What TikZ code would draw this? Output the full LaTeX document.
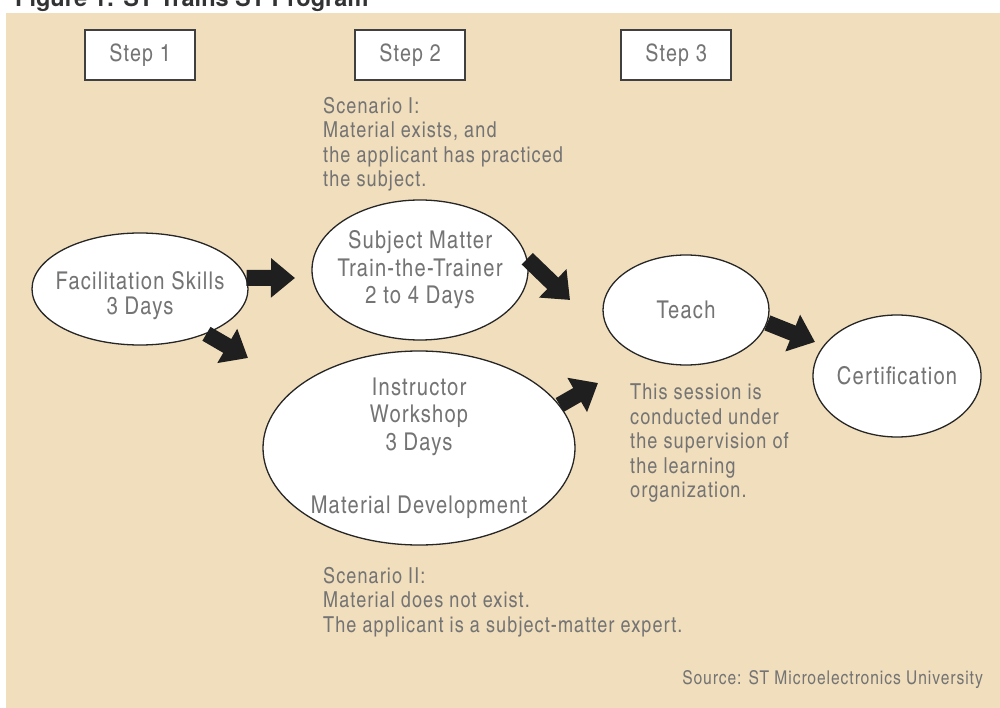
\documentclass[tikz,border=0pt]{standalone}
\usepackage{fontspec}
\setmainfont[LetterSpace=5]{TeX Gyre Heros Cn}
\newfontfamily\titlefont{TeX Gyre Heros}
\usetikzlibrary{shapes.geometric,arrows.meta}
\definecolor{bg}{HTML}{F1DEBC}
\definecolor{txt}{HTML}{747474}
\begin{document}
\begin{tikzpicture}[x=1pt,y=-1pt,
  oval/.style={ellipse, draw=black!85, line width=1.3pt, fill=white, inner sep=-40pt, text=txt, align=center, font=\fontsize{24.5}{27.5}\selectfont},
  stepbox/.style={rectangle, draw=black!75, line width=1.3pt, fill=white, minimum width=110pt, minimum height=50pt, inner sep=0pt, text=txt, font=\fontsize{24}{24}\selectfont},
  note/.style={anchor=north west, inner sep=0pt, align=left, text=txt, font=\fontsize{22}{24.5}\selectfont},
  blk/.style={line width=16pt, -{Triangle[length=24pt,width=38pt]}, black!88}
]
\useasboundingbox (0,0) rectangle (1000,708);
\fill[white] (0,0) rectangle (1000,708);
\fill[bg] (6,13) rectangle (1000,708);
\node[anchor=base west, inner sep=0pt, font=\titlefont\bfseries\fontsize{23.5}{25}\selectfont, text=black!80] (title) at (15,7) {Figure 1: ST Trains ST Program};

\node[stepbox] (s1) at (140,55) {Step 1};
\node[stepbox] (s2) at (410,55) {Step 2};
\node[stepbox] (s3) at (676,55) {Step 3};

\node[oval, minimum width=216pt, minimum height=112pt, font=\fontsize{24.5}{25}\selectfont] (fac) at (140,289) {\rule{0pt}{32pt}Facilitation Skills\\3 Days};
\node[oval, minimum width=216pt, minimum height=140pt] (sub) at (420,270) {Subject Matter\\Train-the-Trainer\\2 to 4 Days};
\node[oval, minimum width=312pt, minimum height=194pt] (ins) at (419,448) {Instructor\\Workshop\\3 Days\\[36pt]Material Development};
\node[oval, minimum width=166pt, minimum height=110pt] (teach) at (686,310) {Teach};
\node[oval, minimum width=168pt, minimum height=122pt] (cert) at (897,376) {Certification};

\coordinate (t1) at (295,278);
\coordinate (t2) at (248,358);
\coordinate (t3) at (570,300);
\coordinate (t4) at (598,383);
\coordinate (t5) at (815,342);
\draw[blk] (fac.6) -- (t1);
\draw[blk] (fac.-34) -- (t2);
\draw[blk] (sub.6) -- (t3);
\draw[blk] (ins.17) -- (t4);
\draw[blk] (teach.-9) -- (t5);

\node[note] (sc1) at (323,97) {Scenario I:\\Material exists, and\\the applicant has practiced\\the subject.};
\node[note] (sc2) at (323,567) {Scenario II:\\Material does not exist.\\The applicant is a subject-matter expert.};
\node[note] (sess) at (630,384) {This session is\\conducted under\\the supervision of\\the learning\\organization.};
\node[anchor=base east, inner sep=0pt, text=txt, font=\fontsize{19}{22}\selectfont] (src) at (983,684) {Source: ST Microelectronics University};
\end{tikzpicture}
\end{document}
